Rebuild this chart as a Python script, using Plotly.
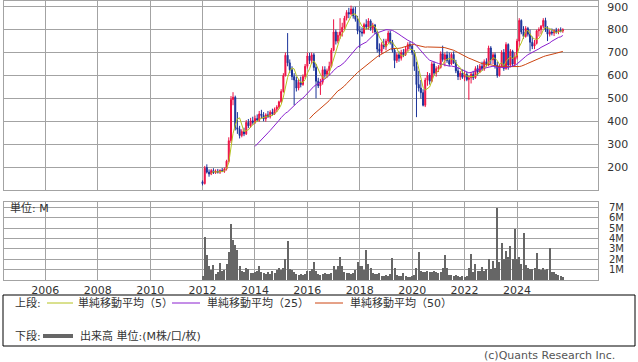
import pandas as pd
import plotly.graph_objects as go

# ---------------- data (monthly, from 2012-01) ----------------
months = pd.date_range("2012-01-01", periods=166, freq="MS")

opens = [136,128,198,178,170,185,176,182,178,186,181,192,226,315,495,505,372,365,338,355,
         345,395,380,402,395,412,405,432,425,410,428,420,440,432,452,462,485,530,600,688,
         655,625,595,580,545,570,560,595,640,685,665,690,635,575,555,570,625,605,620,640,
         710,790,750,775,790,810,850,875,868,890,860,845,795,790,785,822,812,838,805,820,
         790,715,705,735,725,750,785,745,710,665,690,675,700,690,715,735,728,700,640,560,
         545,525,470,580,600,575,650,610,630,635,695,670,690,665,650,692,655,620,595,610,
         592,605,582,590,605,590,630,615,640,628,660,650,720,668,690,645,600,640,700,630,
         735,645,705,650,680,750,840,790,770,805,780,745,728,740,795,800,815,840,800,780,
         790,785,796,790,798,794]
highs = [142,205,212,190,192,195,190,192,190,196,198,232,330,510,527,512,440,380,365,372,
         405,410,415,420,425,430,445,450,440,435,445,448,455,460,470,490,540,610,700,785,
         670,640,610,595,585,595,605,650,700,698,700,698,650,590,585,640,640,630,660,720,
         845,800,790,850,830,860,885,895,905,898,900,860,815,810,830,845,850,845,830,825,
         795,740,745,760,760,795,795,755,720,700,705,712,715,725,745,748,735,710,660,620,
         580,540,590,615,610,660,660,640,645,705,730,700,705,700,700,705,668,635,620,625,
         618,615,600,615,620,640,645,650,660,670,675,730,728,700,700,660,650,710,715,745,
         740,715,712,700,760,850,845,815,815,812,800,770,755,800,810,820,850,852,815,800,
         805,800,808,805,810,806]
lows = [120,124,172,158,165,170,170,172,170,178,175,185,220,305,470,360,345,325,330,335,
        340,370,372,385,388,400,398,412,400,398,415,412,425,428,440,455,480,525,595,640,
        610,580,470,530,535,548,555,585,630,650,650,620,500,545,515,560,590,590,600,635,
        705,735,740,760,770,800,840,850,862,848,835,780,720,770,780,800,800,795,785,780,
        700,680,695,715,710,740,735,700,632,655,660,665,680,685,705,715,690,620,418,530,
        500,465,462,555,560,570,600,595,615,630,660,640,655,640,645,650,610,580,580,585,
        575,575,494,565,580,585,600,610,620,620,640,640,650,650,630,590,595,635,620,625,
        625,635,640,640,670,725,780,760,765,770,705,715,715,735,770,780,805,790,750,770,
        775,772,782,780,788,786]
closes = [128,195,178,170,185,176,182,178,186,181,192,226,315,495,505,372,365,338,355,345,
          395,380,402,395,412,405,432,425,410,428,420,440,432,452,462,485,530,600,688,655,
          625,595,580,545,570,560,595,640,685,665,690,635,575,555,570,625,605,620,640,710,
          790,750,775,790,810,850,875,868,890,860,845,795,790,785,822,812,838,805,820,790,
          715,705,735,725,750,785,745,710,665,690,675,700,690,715,735,728,700,640,560,545,
          525,470,580,600,575,650,610,630,635,695,670,690,665,650,692,655,620,595,610,592,
          605,582,590,605,590,630,615,640,628,660,650,720,668,690,645,600,640,700,630,735,
          645,705,650,680,750,840,790,770,805,780,745,728,740,795,800,815,840,800,780,790,
          785,796,790,798,794,800]
volume_m = [0.4,4.1,2.4,1.3,1.0,1.4,0.6,0.8,1.6,0.9,1.0,1.5,2.7,5.4,3.8,3.4,2.9,1.3,0.9,0.8,
            1.2,1.1,0.7,0.7,0.8,0.9,1.3,0.8,0.7,0.6,0.8,0.6,0.9,0.7,1.0,1.2,1.0,1.2,2.0,3.76,
            1.1,1.0,0.8,0.6,0.5,0.6,0.5,0.6,0.9,0.9,1.1,1.75,0.9,0.6,0.5,0.6,0.7,0.6,0.6,0.7,
            1.3,1.0,1.3,2.2,1.3,0.8,0.7,0.7,0.6,0.7,1.0,1.75,1.3,1.3,1.0,2.87,1.5,1.2,0.7,0.6,
            0.6,0.67,0.4,0.4,0.5,0.4,0.6,2.07,1.2,0.5,0.4,0.4,0.7,0.4,0.3,0.3,0.4,0.5,1.2,2.7,
            0.9,0.8,0.8,0.9,0.8,0.8,0.9,0.8,0.7,0.8,1.2,2.4,1.2,0.5,0.5,0.4,0.5,0.4,0.3,0.4,
            0.3,0.4,1.2,2.5,0.8,1.5,0.9,0.9,1.27,0.9,1.1,2.0,1.1,1.8,1.2,6.95,1.75,3.57,2.0,2.77,
            2.2,3.25,2.0,4.95,2.0,2.2,1.5,4.53,1.4,1.2,1.1,1.1,1.2,2.6,1.1,1.0,1.2,1.0,1.1,3.03,
            0.8,0.8,0.6,0.5,0.4,0.3]

year_ticks = ["2006-01-01", "2008-01-01", "2010-01-01", "2012-01-01", "2014-01-01",
              "2016-01-01", "2018-01-01", "2020-01-01", "2022-01-01", "2024-01-01"]
year_labels = ["2006", "2008", "2010", "2012", "2014", "2016", "2018", "2020", "2022", "2024"]
price_ticks = [200, 300, 400, 500, 600, 700, 800, 900]
vol_ticks = [1, 2, 3, 4, 5, 6, 7]
vol_labels = ["1M", "2M", "3M", "4M", "5M", "6M", "7M"]

for name, arr in [("opens", opens), ("highs", highs), ("lows", lows), ("closes", closes), ("volume", volume_m)]:
    if len(arr) != len(months):
        raise ValueError(f"{name} has {len(arr)} values")

cs = pd.Series(closes)
ma5 = cs.rolling(5).mean()
ma25 = cs.rolling(25).mean()
ma50 = cs.rolling(50).mean()

UP = "#ee1144"
DOWN = "#1a3399"
C5 = "#b4c21e"
C25 = "#8a1fcf"
C50 = "#cc4410"
GRID = "#a3a3a3"
TXT = "#333333"
FONT = "DejaVu Sans, Noto Sans CJK JP, sans-serif"

fig = go.Figure()
fig.add_trace(go.Candlestick(
    x=months, open=opens, high=highs, low=lows, close=closes,
    increasing=dict(line=dict(color=UP, width=1), fillcolor=UP),
    decreasing=dict(line=dict(color=DOWN, width=1), fillcolor=DOWN),
    xaxis="x", yaxis="y", showlegend=False, hoverinfo="skip"))
for ma, col in [(ma50, C50), (ma25, C25), (ma5, C5)]:
    fig.add_trace(go.Scatter(x=months, y=ma, mode="lines", line=dict(color=col, width=1),
                             xaxis="x", yaxis="y", showlegend=False, hoverinfo="skip"))
fig.add_trace(go.Bar(x=months, y=volume_m, marker=dict(color="#666666", line=dict(width=0)),
                     xaxis="x2", yaxis="y2", showlegend=False, hoverinfo="skip"))

# pixel -> paper helpers (plot area x 4..598, y 1..280)
L, R, T, B = 4, 598, 1, 280
def px(x):
    return (x - L) / (R - L)
def py(y):
    return (B - y) / (B - T)

xr = ["2004-06-04", "2027-02-03"]
common_x = dict(type="date", range=xr, showgrid=True, gridcolor=GRID, gridwidth=1,
                tickmode="array", tickvals=year_ticks, ticktext=year_labels,
                showline=True, mirror=True,
                linecolor=GRID, linewidth=1, zeroline=False, ticks="")
fig.update_layout(
    width=638, height=362,
    margin=dict(l=L, r=638 - R, t=T, b=362 - B),
    paper_bgcolor="white", plot_bgcolor="white",
    font=dict(family=FONT, size=11, color=TXT),
    bargap=0,
    xaxis=dict(**common_x, domain=[0, 1], anchor="y", showticklabels=False,
               rangeslider=dict(visible=False)),
    xaxis2=dict(**common_x, domain=[0, 1], anchor="y2", matches="x",
                showticklabels=True, tickfont=dict(size=11, color=TXT)),
    yaxis=dict(domain=[py(190), 1], range=[100, 925], side="right",
               tickvals=price_ticks, showgrid=True, gridcolor=GRID, gridwidth=1,
               showline=True, mirror=True, linecolor=GRID, zeroline=False,
               ticks="outside", ticklen=6, tickcolor="rgba(0,0,0,0)",
               tickfont=dict(size=11, color=TXT)),
    yaxis2=dict(domain=[0, py(202)], range=[0, 7.5], side="right",
                tickvals=vol_ticks, ticktext=vol_labels, showgrid=True, gridcolor=GRID,
                gridwidth=1, showline=True, mirror=True, linecolor=GRID, zeroline=False,
                ticks="outside", ticklen=8, tickcolor="rgba(0,0,0,0)",
                tickfont=dict(size=10, color=TXT)),
)

shapes = [
    dict(type="rect", xref="paper", yref="paper", x0=px(3), x1=px(635), y0=py(346), y1=py(295),
         line=dict(color="#000000", width=1), fillcolor="rgba(0,0,0,0)"),
    dict(type="line", xref="paper", yref="paper", x0=px(47), x1=px(73), y0=py(303), y1=py(303),
         line=dict(color=C5, width=1)),
    dict(type="line", xref="paper", yref="paper", x0=px(172), x1=px(200), y0=py(303), y1=py(303),
         line=dict(color=C25, width=1)),
    dict(type="line", xref="paper", yref="paper", x0=px(315), x1=px(343), y0=py(303), y1=py(303),
         line=dict(color=C50, width=1)),
    dict(type="line", xref="paper", yref="paper", x0=px(43), x1=px(73), y0=py(336), y1=py(336),
         line=dict(color="#666666", width=4)),
]
fig.update_layout(shapes=shapes)

def ann(text, x, y, anchor="left", color=TXT):
    return dict(text=text, xref="paper", yref="paper", x=px(x), y=py(y), xanchor=anchor,
                yanchor="middle", showarrow=False, font=dict(family=FONT, size=11, color=color))

fig.update_layout(annotations=[
    ann("上段:", 13, 303),
    ann("単純移動平均（5）", 76, 303),
    ann("単純移動平均（25）", 205, 303),
    ann("単純移動平均（50）", 348, 303),
    ann("下段:", 13, 336),
    ann("出来高 単位:(M株/口/枚)", 78, 336),
    ann("単位: M", 8, 208),
    ann("(c)Quants Research Inc.", 617, 355, "right", "#555555"),
])

fig.write_html("out.html", config={"displayModeBar": False},
               post_script="document.body.style.margin='0';document.body.style.overflow='hidden';")
